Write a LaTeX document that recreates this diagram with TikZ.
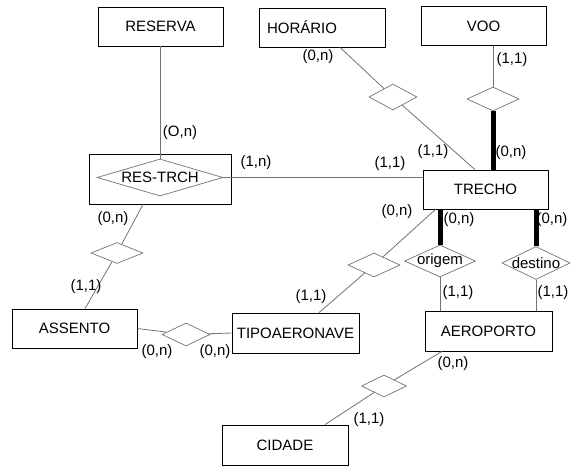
\documentclass[tikz,border=0pt]{standalone}
\usepackage{fontspec}
\setmainfont{Liberation Sans}
\usetikzlibrary{shapes.geometric}
\definecolor{linegray}{gray}{0.45}

\begin{document}
\begin{tikzpicture}[x=1pt,y=-1pt,
    font=\fontsize{15}{17}\selectfont,
    entity/.style={draw,line width=0.8pt,minimum width=125pt,minimum height=39pt,inner sep=0pt},
    rel/.style={draw=linegray,line width=0.7pt,diamond,inner sep=0pt},
    conn/.style={linegray,line width=0.8pt},
    heavyconn/.style={black,line width=5pt},
    card/.style={inner sep=0pt}]
    \useasboundingbox (0,0) rectangle (571,466);

    \node[entity] (reserva) at (160.5,26.5) {RESERVA};
    \node[entity,minimum width=126pt,text width=110pt,inner xsep=8pt,align=left] (horario) at (322,27.5) {HORÁRIO};
    \node[entity] (voo) at (483.5,26) {VOO};
    \node[entity] (trecho) at (485.5,189.5) {TRECHO};
    \node[entity,minimum width=142pt,minimum height=50pt] (restrch) at (160,179) {};
    \node[rel,minimum width=126pt,minimum height=37pt] (restrchrel) at (160,177.5) {\makebox[0pt]{RES-TRCH}};
    \node[entity] (assento) at (74.5,328.5) {ASSENTO};
    \node[entity,minimum width=127pt,minimum height=40pt] (tipo) at (295.5,333) {TIPOAERONAVE};
    \node[entity,minimum width=127pt,minimum height=40pt] (aeroporto) at (488.5,331) {AEROPORTO};
    \node[entity,minimum width=126pt,minimum height=40pt] (cidade) at (285,445) {CIDADE};

    \node[rel,minimum width=48pt,minimum height=26pt] (hrel) at (393,97) {};
    \node[rel,minimum width=52pt,minimum height=24pt] (vrel) at (493,99) {};
    \node[rel,minimum width=52pt,minimum height=24pt] (trel) at (374,265) {};
    \node[rel,minimum width=52pt,minimum height=21pt] (arel) at (117,253) {};
    \node[rel,minimum width=48pt,minimum height=23pt] (srel) at (186,334.5) {};
    \node[rel,minimum width=45pt,minimum height=22pt] (crel) at (384,386) {};
    \node[rel,minimum width=71pt,minimum height=32pt] (origem) at (440,261) {\makebox[0pt]{origem}};
    \node[rel,minimum width=68pt,minimum height=33pt] (destino) at (536,263) {\makebox[0pt]{destino}};

    \draw[conn] (reserva.south -| restrchrel.north) -- (restrchrel.north);
    \draw[conn] (restrchrel.east) -- (restrchrel.east -| trecho.west);
    \draw[conn] ([xshift=18pt]horario.south) -- (hrel) -- ([xshift=-10.5pt]trecho.north);
    \draw[conn] (vrel.north) -- (vrel.north |- voo.south);
    \draw[heavyconn] (vrel.south) -- (vrel.south |- trecho.north);
    \draw[heavyconn] (origem.north) -- (origem.north |- trecho.south);
    \draw[conn] (origem.south) -- (origem.south |- aeroporto.north);
    \draw[heavyconn] (destino.north) -- (destino.north |- trecho.south);
    \draw[conn] (destino.south) -- (destino.south |- aeroporto.north);
    \draw[conn] ([xshift=-50pt]trecho.south) -- (trel) -- ([xshift=23.5pt]tipo.north);
    \draw[conn] ([xshift=-17pt]restrch.south) -- (arel) -- ([xshift=10.5pt]assento.north);
    \draw[conn] (assento.east) -- (srel) -- (tipo.west);
    \draw[conn] ([xshift=-46.5pt]aeroporto.south) -- (crel) -- ([xshift=40pt]cidade.north);

    \node[card] (c1) at (180,133) {(O,n)};
    \node[card] (c2) at (256,163) {(1,n)};
    \node[card] (c3) at (390,164) {(1,1)};
    \node[card] (c4) at (318,57) {(0,n)};
    \node[card] (c5) at (512,60) {(1,1)};
    \node[card] (c6) at (433,152) {(1,1)};
    \node[card] (c7) at (511,153) {(0,n)};
    \node[card] (c8) at (397,212) {(0,n)};
    \node[card] (c9) at (459,220) {(0,n)};
    \node[card] (c10) at (552,220) {(0,n)};
    \node[card] (c11) at (458,293) {(1,1)};
    \node[card] (c12) at (553,293) {(1,1)};
    \node[card] (c13) at (311,297) {(1,1)};
    \node[card] (c14) at (453,364) {(0,n)};
    \node[card] (c15) at (369,420) {(1,1)};
    \node[card] (c16) at (113,219) {(0,n)};
    \node[card] (c17) at (86,287) {(1,1)};
    \node[card] (c18) at (157,352) {(0,n)};
    \node[card] (c19) at (215,352) {(0,n)};
\end{tikzpicture}
\end{document}
